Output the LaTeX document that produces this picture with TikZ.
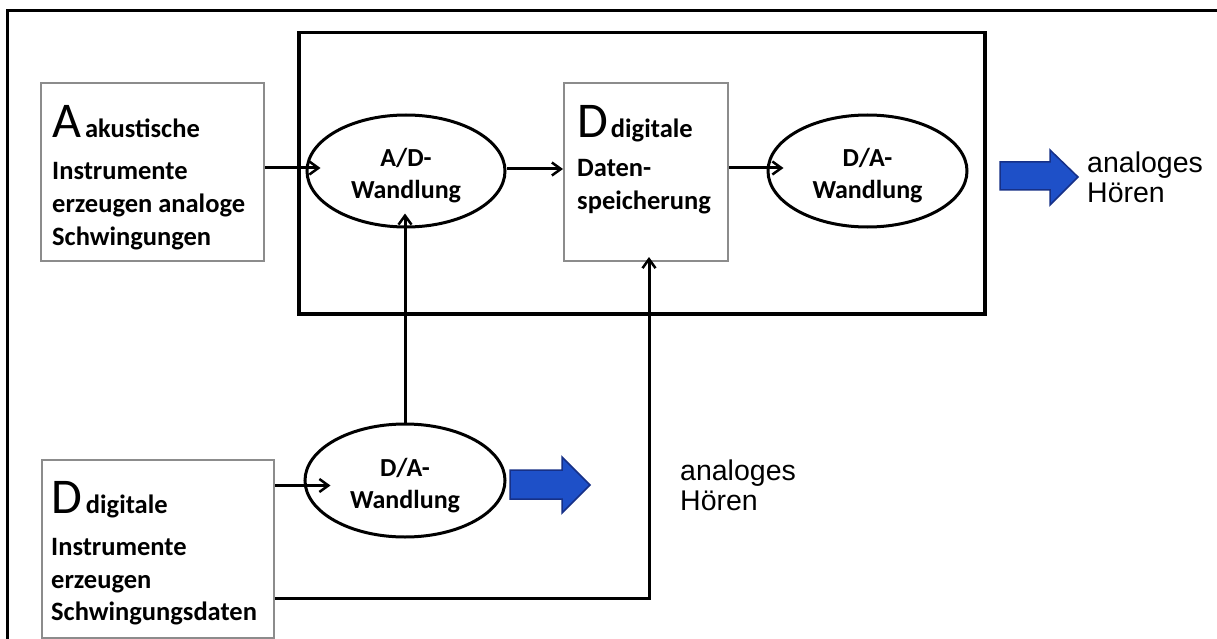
\documentclass[tikz,border=0pt]{standalone}
\usepackage{fontspec}
\setmainfont{Carlito}
\newfontfamily\arialfont{Liberation Sans}
\usetikzlibrary{arrows.meta,shapes.geometric}
\definecolor{boxgray}{RGB}{140,140,140}
\definecolor{arrowblue}{RGB}{30,80,200}
\definecolor{arrowedge}{RGB}{22,48,135}
\newcommand{\elltop}{\rule{0pt}{28pt}}
\begin{document}
\begin{tikzpicture}[x=1pt,y=-1pt,
  gbox/.style={draw=boxgray, line width=2pt, rectangle, inner sep=0pt, anchor=north west},
  ell/.style={draw=black, line width=3pt, ellipse, inner sep=0pt, align=center,
    font=\fontsize{26}{32}\selectfont\bfseries},
  conn/.style={line width=3pt, -{Straight Barb[length=9pt,width=13pt,line width=2.5pt]}},
  txt/.style={anchor=base west, inner sep=0pt},
  blu/.style={fill=arrowblue, draw=arrowedge, line width=1.5pt, line join=miter},
  frame/.style={draw=black, line width=3.5pt}
  ]
\useasboundingbox (0,0) rectangle (1217,639);
\clip (0,0) rectangle (1217,639);
\fill[white] (0,0) rectangle (1217,639);
% outer frame (runs off the picture)
\draw[frame, line width=3pt] (7,660) -- (7,11) -- (1240,11);
% inner system box
\node[frame, rectangle, inner sep=0pt, anchor=north west, minimum width=686pt, minimum height=281pt] (sys) at (297,31) {};
% boxes
\node[gbox, minimum width=223pt, minimum height=178pt] (boxA) at (40,82) {};
\node[gbox, minimum width=164pt, minimum height=178pt] (dsp) at (563,82) {};
\node[gbox, minimum width=232pt, minimum height=178pt] (bbox) at (41,459) {};
% box texts
\node[txt] (boxAtxt) at (52,138) {\parbox[t]{205pt}{\raggedright\fontsize{26.5}{33}\selectfont\bfseries
  {\fontsize{50}{50}\selectfont\mdseries A}\hspace{4pt}akustische\\[9pt]
  Instrumente\\ erzeugen analoge\\ Schwingungen}};
\node[txt] (dsptxt) at (577,138) {\parbox[t]{145pt}{\raggedright\fontsize{26.5}{33}\selectfont\bfseries
  {\fontsize{50}{50}\selectfont\mdseries D}\hspace{3pt}digitale\\[6pt]
  Daten-\\ speicherung}};
\node[txt] (bboxtxt) at (51,513) {\parbox[t]{215pt}{\raggedright\fontsize{26.5}{33}\selectfont\bfseries
  {\fontsize{50}{50}\selectfont\mdseries D}\hspace{4pt}digitale\\[9pt]
  Instrumente\\ erzeugen\\[-1pt] Schwingungsdaten}};
% ellipses
\node[ell, minimum width=198pt, minimum height=112pt] (adw) at (406,171) {\elltop A/D-\\Wandlung};
\node[ell, minimum width=199pt, minimum height=112pt] (dat) at (867.5,171) {\elltop D/A-\\Wandlung};
\node[ell, minimum width=200pt, minimum height=113pt] (dab) at (405,480.5) {\elltop D/A-\\Wandlung};
% connectors
\path ([xshift=15pt,yshift=3pt]adw.west) coordinate (adwin);
\draw[conn] (boxA.east |- adwin) -- (adwin);
\path ([yshift=3pt]dsp.west) coordinate (dspin);
\draw[conn] (adw.east |- dspin) -- (dspin);
\path ([xshift=17pt,yshift=3pt]dat.west) coordinate (datin);
\draw[conn] (dsp.east |- datin) -- (datin);
\path ([xshift=27pt,yshift=-5pt]dab.west) coordinate (dabin);
\draw[conn] (bbox.east |- dabin) -- (dabin);
\draw[conn] (dab.north) -- ([yshift=15pt]dab.north |- adw.south);
\draw[conn] ([yshift=-49pt]bbox.east) -| ([xshift=3pt,yshift=5pt]dsp.south);
% blue arrows
\draw[blu] (1000,162) -- (1050,162) -- (1050,150) -- (1078,177) -- (1050,205) -- (1050,190) -- (1000,190) -- cycle;
\draw[blu] (510,470) -- (562,470) -- (562,457) -- (590,485) -- (562,513) -- (562,499) -- (510,499) -- cycle;
% labels
\node[txt] (hoer1) at (1087,172) {\parbox[t]{130pt}{\arialfont\fontsize{28.5}{31}\selectfont analoges\\Hören}};
\node[txt] (hoer2) at (680,480) {\parbox[t]{130pt}{\arialfont\fontsize{28.5}{30}\selectfont analoges\\Hören}};
\end{tikzpicture}
\end{document}
